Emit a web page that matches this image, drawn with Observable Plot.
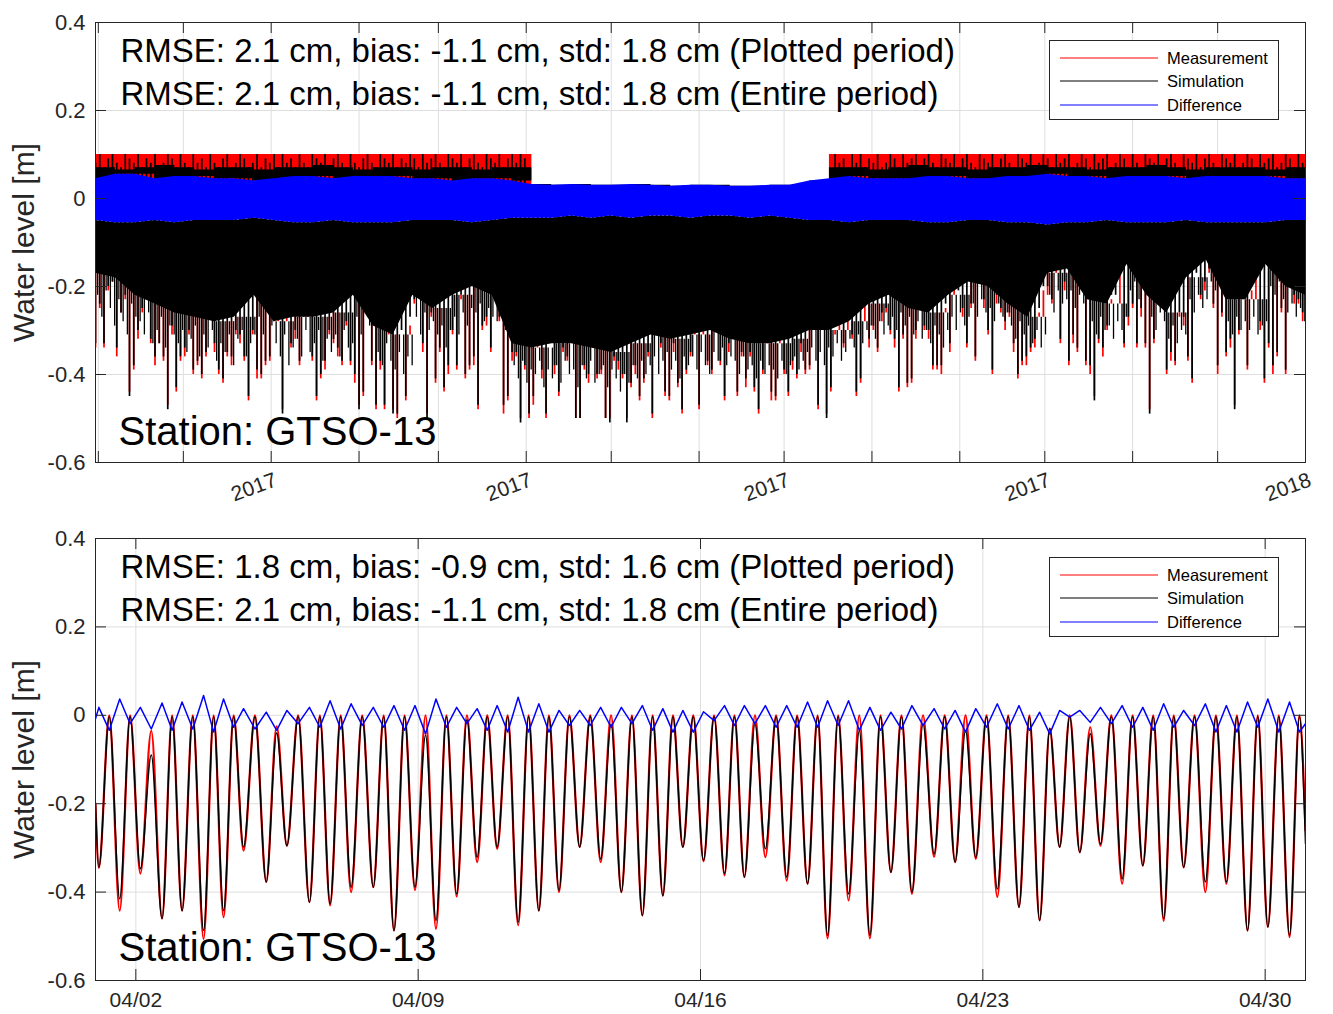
<!DOCTYPE html>
<html><head><meta charset="utf-8">
<script src="https://cdn.jsdelivr.net/npm/d3@7"></script>
<script src="https://cdn.jsdelivr.net/npm/@observablehq/plot@0.6"></script>
<style>
body{margin:0;background:#fff;}
#wrap{position:relative;width:1333px;height:1014px;overflow:hidden;background:#fff;}
#top{position:absolute;left:0;top:0;width:1333px;height:505px;overflow:hidden;}
#bot{position:absolute;left:0;top:505px;width:1333px;height:509px;overflow:hidden;}
.legend{position:absolute;background:#fff;border:1px solid #262626;box-sizing:border-box;}
</style></head><body>
<div id="wrap"><div id="top"></div><div id="bot"></div></div>
<script>
// ---------- labels ----------
const topStats = ["RMSE: 2.1 cm, bias: -1.1 cm, std: 1.8 cm (Plotted period)", "RMSE: 2.1 cm, bias: -1.1 cm, std: 1.8 cm (Entire period)"];
const bottomStats = ["RMSE: 1.8 cm, bias: -0.9 cm, std: 1.6 cm (Plotted period)", "RMSE: 2.1 cm, bias: -1.1 cm, std: 1.8 cm (Entire period)"];
const stationLabel = "Station: GTSO-13";
const yLabel = "Water level [m]";
const yTicks = [-0.6, -0.4, -0.2, 0, 0.2, 0.4];
const legendLabels = ["Measurement", "Simulation", "Difference"];
const seriesColors = ["#ff0000", "#000000", "#0000ff"];

// ---------- top panel (whole record, sampled every 1.5 days) ----------
const topStart = Date.UTC(2016, 9, 31);
const topEnd = Date.UTC(2018, 0, 1);
const sampleStepDays = 1.5;
const secondaryOffsetDays = 0.75;
const simLow = [
-0.33,-0.24,-0.33,-0.20,-0.19,-0.34,-0.26,-0.22,-0.45,-0.38,
-0.30,-0.25,-0.22,-0.32,-0.36,-0.33,-0.36,-0.48,-0.29,-0.43,
-0.36,-0.34,-0.30,-0.39,-0.37,-0.40,-0.35,-0.26,-0.33,-0.39,
-0.41,-0.35,-0.36,-0.30,-0.31,-0.36,-0.45,-0.30,-0.39,-0.40,
-0.37,-0.36,-0.21,-0.19,-0.49,-0.22,-0.33,-0.30,-0.37,-0.20,
-0.24,-0.36,-0.45,-0.40,-0.37,-0.30,-0.32,-0.34,-0.37,-0.28,
-0.37,-0.40,-0.48,-0.44,-0.16,-0.37,-0.47,-0.37,-0.47,-0.30,
-0.49,-0.49,-0.30,-0.45,-0.27,-0.23,-0.15,-0.33,-0.50,-0.26,
-0.41,-0.34,-0.43,-0.38,-0.30,-0.38,-0.22,-0.40,-0.38,-0.36,
-0.47,-0.29,-0.27,-0.34,-0.17,-0.27,-0.47,-0.45,-0.35,-0.35,
-0.51,-0.38,-0.49,-0.45,-0.30,-0.39,-0.49,-0.33,-0.38,-0.44,
-0.34,-0.36,-0.31,-0.50,-0.50,-0.38,-0.40,-0.30,-0.40,-0.39,
-0.50,-0.51,-0.36,-0.37,-0.40,-0.51,-0.42,-0.38,-0.45,-0.41,
-0.35,-0.49,-0.27,-0.33,-0.44,-0.45,-0.33,-0.42,-0.48,-0.39,
-0.35,-0.25,-0.47,-0.28,-0.37,-0.39,-0.26,-0.37,-0.45,-0.33,
-0.28,-0.44,-0.35,-0.41,-0.35,-0.43,-0.48,-0.39,-0.29,-0.44,
-0.45,-0.26,-0.39,-0.44,-0.37,-0.40,-0.33,-0.39,-0.38,-0.18,
-0.47,-0.26,-0.50,-0.43,-0.29,-0.23,-0.33,-0.23,-0.31,-0.44,
-0.41,-0.18,-0.32,-0.29,-0.34,-0.26,-0.25,-0.30,-0.32,-0.43,
-0.31,-0.42,-0.41,-0.30,-0.23,-0.29,-0.30,-0.38,-0.38,-0.38,
-0.24,-0.33,-0.16,-0.21,-0.25,-0.33,-0.24,-0.36,-0.15,-0.23,
-0.30,-0.39,-0.22,-0.25,-0.28,-0.26,-0.33,-0.40,-0.37,-0.36,
-0.34,-0.32,-0.25,-0.20,-0.20,-0.23,-0.14,-0.32,-0.19,-0.37,
-0.31,-0.34,-0.20,-0.37,-0.38,-0.46,-0.32,-0.34,-0.29,-0.22,
-0.22,-0.14,-0.33,-0.27,-0.24,-0.33,-0.25,-0.33,-0.49,-0.32,
-0.16,-0.19,-0.39,-0.35,-0.37,-0.26,-0.27,-0.36,-0.41,-0.17,
-0.22,-0.19,-0.16,-0.24,-0.38,-0.26,-0.35,-0.32,-0.48,-0.30,
-0.20,-0.38,-0.19,-0.16,-0.28,-0.41,-0.33,-0.38,-0.35,-0.25,
-0.39,-0.13,-0.22,-0.23,-0.26];
const measLow = [
-0.34,-0.25,-0.34,-0.21,-0.19,-0.36,-0.26,-0.23,-0.44,-0.39,
-0.32,-0.26,-0.23,-0.33,-0.38,-0.33,-0.37,-0.47,-0.31,-0.44,
-0.37,-0.36,-0.31,-0.40,-0.38,-0.41,-0.36,-0.27,-0.35,-0.40,
-0.42,-0.36,-0.38,-0.31,-0.33,-0.37,-0.46,-0.31,-0.41,-0.41,
-0.38,-0.37,-0.22,-0.20,-0.48,-0.24,-0.34,-0.32,-0.38,-0.21,
-0.26,-0.37,-0.46,-0.41,-0.39,-0.31,-0.33,-0.36,-0.38,-0.29,
-0.38,-0.42,-0.47,-0.45,-0.17,-0.38,-0.48,-0.39,-0.48,-0.31,
-0.48,-0.50,-0.31,-0.46,-0.29,-0.24,-0.16,-0.35,-0.49,-0.27,
-0.42,-0.35,-0.44,-0.40,-0.31,-0.39,-0.23,-0.41,-0.39,-0.38,
-0.48,-0.30,-0.29,-0.35,-0.18,-0.28,-0.49,-0.46,-0.37,-0.36,
-0.50,-0.39,-0.50,-0.47,-0.31,-0.41,-0.50,-0.34,-0.40,-0.45,
-0.35,-0.37,-0.33,-0.50,-0.50,-0.39,-0.42,-0.31,-0.41,-0.40,
-0.50,-0.50,-0.37,-0.39,-0.41,-0.50,-0.43,-0.40,-0.46,-0.42,
-0.36,-0.50,-0.29,-0.34,-0.45,-0.46,-0.35,-0.43,-0.49,-0.40,
-0.36,-0.27,-0.48,-0.29,-0.38,-0.40,-0.28,-0.38,-0.46,-0.35,
-0.29,-0.45,-0.36,-0.43,-0.36,-0.44,-0.49,-0.40,-0.30,-0.46,
-0.46,-0.28,-0.40,-0.45,-0.39,-0.41,-0.35,-0.40,-0.39,-0.19,
-0.48,-0.27,-0.49,-0.44,-0.31,-0.24,-0.34,-0.25,-0.32,-0.45,
-0.42,-0.19,-0.34,-0.30,-0.35,-0.28,-0.26,-0.31,-0.34,-0.44,
-0.32,-0.43,-0.42,-0.32,-0.24,-0.30,-0.32,-0.39,-0.39,-0.40,
-0.25,-0.35,-0.17,-0.22,-0.27,-0.34,-0.25,-0.37,-0.16,-0.25,
-0.31,-0.40,-0.24,-0.26,-0.30,-0.27,-0.35,-0.41,-0.38,-0.38,
-0.35,-0.34,-0.26,-0.21,-0.22,-0.24,-0.15,-0.33,-0.21,-0.38,
-0.33,-0.35,-0.21,-0.38,-0.40,-0.45,-0.33,-0.36,-0.30,-0.23,
-0.24,-0.15,-0.34,-0.29,-0.25,-0.34,-0.27,-0.34,-0.48,-0.33,
-0.17,-0.21,-0.40,-0.37,-0.38,-0.27,-0.29,-0.37,-0.42,-0.18,
-0.23,-0.21,-0.17,-0.25,-0.40,-0.27,-0.36,-0.34,-0.47,-0.31,
-0.21,-0.39,-0.21,-0.17,-0.30,-0.42,-0.34,-0.40,-0.36,-0.26,
-0.40,-0.14,-0.24,-0.24,-0.28];
// the in-between (second daily) low waters, shallower than the main spikes
const simLow2 = [
-0.22,-0.27,-0.21,-0.25,-0.29,-0.23,-0.28,-0.31,-0.24,-0.27,
-0.28,-0.31,-0.26,-0.33,-0.30,-0.27,-0.34,-0.29,-0.31,-0.33,
-0.30,-0.35,-0.32,-0.29,-0.36,-0.31,-0.34,-0.30,-0.37,-0.33,
-0.35,-0.31,-0.38,-0.32,-0.30,-0.36,-0.33,-0.31,-0.27,-0.31,
-0.25,-0.29,-0.33,-0.36,-0.31,-0.38,-0.34,-0.32,-0.36,-0.30,
-0.35,-0.33,-0.30,-0.37,-0.32,-0.35,-0.31,-0.36,-0.30,-0.34,
-0.33,-0.27,-0.31,-0.25,-0.29,-0.28,-0.35,-0.38,-0.33,-0.37,
-0.39,-0.35,-0.40,-0.36,-0.38,-0.27,-0.31,-0.26,-0.30,-0.28,
-0.31,-0.29,-0.34,-0.30,-0.27,-0.31,-0.26,-0.29,-0.25,-0.26,
-0.24,-0.28,-0.25,-0.27,-0.28,-0.25,-0.30,-0.27,-0.38,-0.41,
-0.37,-0.42,-0.39,-0.40,-0.37,-0.43,-0.39,-0.41,-0.38,-0.42,
-0.37,-0.40,-0.39,-0.43,-0.38,-0.41,-0.37,-0.42,-0.40,-0.38,
-0.43,-0.39,-0.41,-0.44,-0.40,-0.42,-0.38,-0.41,-0.37,-0.40,
-0.38,-0.36,-0.40,-0.37,-0.35,-0.39,-0.37,-0.41,-0.36,-0.38,
-0.36,-0.39,-0.35,-0.38,-0.40,-0.35,-0.37,-0.34,-0.38,-0.36,
-0.37,-0.40,-0.36,-0.39,-0.38,-0.41,-0.37,-0.40,-0.38,-0.39,
-0.41,-0.37,-0.40,-0.38,-0.36,-0.39,-0.37,-0.35,-0.34,-0.37,
-0.35,-0.38,-0.34,-0.36,-0.33,-0.37,-0.35,-0.32,-0.34,-0.31,
-0.33,-0.30,-0.29,-0.32,-0.28,-0.31,-0.29,-0.27,-0.30,-0.26,
-0.29,-0.27,-0.31,-0.28,-0.32,-0.30,-0.33,-0.29,-0.31,-0.34,
-0.30,-0.27,-0.30,-0.26,-0.29,-0.27,-0.24,-0.27,-0.23,-0.26,
-0.25,-0.28,-0.24,-0.27,-0.26,-0.29,-0.32,-0.28,-0.31,-0.29,
-0.33,-0.30,-0.34,-0.31,-0.22,-0.26,-0.21,-0.24,-0.23,-0.21,
-0.25,-0.22,-0.24,-0.20,-0.28,-0.31,-0.27,-0.30,-0.29,-0.32,
-0.28,-0.30,-0.27,-0.21,-0.19,-0.23,-0.20,-0.22,-0.27,-0.30,
-0.26,-0.28,-0.32,-0.29,-0.33,-0.30,-0.31,-0.23,-0.26,-0.22,
-0.25,-0.23,-0.19,-0.21,-0.18,-0.20,-0.28,-0.31,-0.27,-0.30,
-0.28,-0.30,-0.27,-0.31,-0.29,-0.28,-0.20,-0.22,-0.19,-0.23,
-0.26,-0.24,-0.27,-0.25,-0.28];
// highest simulated level in each sample window
const simHigh = [
0.08,0.1,0.07,0.09,0.1,0.08,0.07,0.1,0.09,0.08,
0.1,0.07,0.09,0.08,0.1,0.07,0.08,0.1,0.09,0.07,
0.1,0.08,0.07,0.1,0.08,0.09,0.07,0.1,0.08,0.07,
0.09,0.1,0.07,0.08,0.1,0.09,0.07,0.08,0.1,0.07,
0.09,0.08,0.1,0.07,0.1,0.08,0.09,0.07,0.1,0.08,
0.07,0.1,0.09,0.08,0.1,0.07,0.09,0.1,0.08,0.07,
0.1,0.08,0.07,0.09,0.1,0.08,0.07,0.1,0.09,0.08,
0.1,0.07,0.09,0.08,0.1,0.09,0.07,0.1,0.08,0.09,
0.1,0.08,0.07,0.1,0.09,0.08,0.1,0.07,0.09,0.1,
0.08,0.07,0.1,0.09,0.08,0.1,0.07,0.09,0.1,0.08,
0.1,0.09,0,0,0,0,0,0,0,0,
0,0,0,0,0,0,0,0,0,0,0,0,0,0,0,0,0,0,0,0,
0,0,0,0,0,0,0,0,0,0,0,0,0,0,0,0,0,0,0,0,
0,0,0,0,0,0,0,0,0,0,0,0,0,0,0,0,0,0,0,0,
0,0,0,0,
0.1,0.08,0.09,0.07,0.1,0.08,0.1,0.07,0.09,0.08,
0.1,0.07,0.08,0.1,0.09,0.07,0.1,0.08,0.09,0.1,
0.07,0.09,0.1,0.08,0.07,0.1,0.09,0.08,0.1,0.07,
0.09,0.1,0.08,0.07,0.1,0.09,0.08,0.1,0.07,0.09,
0.1,0.08,0.07,0.1,0.09,0.08,0.1,0.07,0.08,0.1,
0.09,0.07,0.1,0.08,0.09,0.1,0.07,0.08,0.1,0.09,
0.07,0.1,0.08,0.09,0.1,0.07,0.08,0.1,0.09,0.07,
0.1,0.08,0.07,0.1,0.09,0.08,0.1,0.07,0.09,0.1,
0.08,0.07,0.1,0.09,0.08,0.1,0.07,0.09,0.1,0.08,
0.07,0.1,0.09,0.08,0.1,0.07,0.08,0.1,0.09,0.07,
0.1,0.08,0.09,0.1,0.07,0.08,0.1,0.09,0.07,0.1,0.08];
// weekly envelopes
const floorWeekly = [
-0.17,-0.18,-0.22,-0.24,-0.26,-0.27,-0.28,-0.27,-0.22,-0.28,
-0.27,-0.27,-0.26,-0.22,-0.29,-0.31,-0.22,-0.25,-0.22,-0.20,
-0.22,-0.33,-0.34,-0.33,-0.33,-0.34,-0.35,-0.33,-0.31,-0.32,
-0.31,-0.30,-0.32,-0.33,-0.33,-0.32,-0.30,-0.30,-0.28,-0.24,
-0.22,-0.25,-0.26,-0.22,-0.19,-0.20,-0.24,-0.27,-0.17,-0.16,
-0.23,-0.24,-0.15,-0.22,-0.26,-0.18,-0.14,-0.23,-0.23,-0.15,
-0.20,-0.22];
const measTopWeekly = [
0.1,0.1,0.1,0.1,0.1,0.1,0.1,0.1,0.1,0.1,0.1,0.1,0.1,0.1,0.1,0.1,0.1,0.1,0.1,0.1,0.1,0.1,
0,0,0,0,0,0,0,0,0,0,0,0,0,0,0,
0.1,0.1,0.1,0.1,0.1,0.1,0.1,0.1,0.1,0.1,0.1,0.1,0.1,0.1,0.1,0.1,0.1,0.1,0.1,0.1,0.1,0.1,0.1,0.1,0.1];
const simTopWeekly = [
0.07,0.065,0.07,0.075,0.07,0.065,0.07,0.07,0.065,0.07,0.07,0.075,0.07,0.065,0.07,0.07,0.065,0.07,0.07,0.065,0.07,0.07,
-0.01,-0.01,-0.01,-0.01,-0.01,-0.01,-0.01,-0.01,-0.01,-0.01,-0.01,-0.01,-0.01,-0.01,-0.01,
0.07,0.07,0.065,0.07,0.075,0.07,0.07,0.065,0.07,0.07,0.075,0.07,0.07,0.065,0.07,0.07,0.075,0.07,0.065,0.07,0.07,0.07,0.065,0.07,0.07];
const diffHighWeekly = [
0.045,0.055,0.055,0.045,0.05,0.05,0.045,0.045,0.04,0.045,0.05,0.05,0.045,0.05,0.05,0.05,0.045,0.045,0.04,0.045,0.045,0.04,
0.032,0.03,0.032,0.03,0.03,0.032,0.03,0.028,0.03,0.03,0.028,0.028,0.03,0.03,0.04,
0.045,0.05,0.045,0.045,0.045,0.05,0.05,0.045,0.045,0.05,0.05,0.055,0.05,0.05,0.045,0.05,0.05,0.05,0.045,0.05,0.05,0.05,0.05,0.045,0.045];
const diffLowWeekly = [
-0.05,-0.055,-0.055,-0.05,-0.055,-0.05,-0.05,-0.05,-0.045,-0.05,-0.055,-0.055,-0.05,-0.055,-0.055,-0.055,-0.05,-0.05,-0.05,-0.055,-0.05,-0.045,
-0.045,-0.045,-0.04,-0.045,-0.04,-0.045,-0.04,-0.04,-0.045,-0.04,-0.04,-0.045,-0.04,-0.045,-0.05,
-0.05,-0.055,-0.05,-0.05,-0.05,-0.055,-0.055,-0.05,-0.05,-0.055,-0.055,-0.06,-0.055,-0.055,-0.05,-0.055,-0.055,-0.055,-0.05,-0.055,-0.055,-0.055,-0.055,-0.05,-0.05];

// ---------- bottom panel (April 2017) ----------
const bottomStart = Date.UTC(2017, 3, 1);
const bottomEnd = Date.UTC(2017, 4, 1);
const edgeHours = [0, 720];
const simEdge = [-0.2, -0.29];
const measEdge = [-0.2, -0.26];
const diffEdge = [-0.008, -0.019];
const troughHour = [2.0,14.4,26.7,39.6,51.5,64.3,76.2,88.1,101.6,113.9,127.3,139.6,152.1,165.3,177.6,190.1,202.6,214.9,227.1,239.0,251.5,263.8,275.8,288.1,300.6,312.9,325.4,337.6,349.5,361.8,374.3,386.1,398.6,411.3,423.7,435.6,448.1,460.8,473.3,485.8,499.0,511.5,523.8,536.6,549.5,561.8,573.7,585.7,598.0,610.9,623.2,635.6,647.5,660.4,672.9,685.5,697.6,710.5];
const peakHour = [8.2,20.6,33.2,45.6,57.9,70.3,82.2,94.9,107.8,120.6,133.5,145.9,158.7,171.5,183.9,196.4,208.8,221.0,233.1,245.3,257.7,269.8,282.0,294.4,306.8,319.2,331.5,343.6,355.7,368.1,380.2,392.4,405.0,417.5,429.7,441.9,454.5,467.1,479.6,492.4,505.3,517.7,530.2,543.1,555.7,567.8,579.7,591.9,604.5,617.1,629.4,641.6,654.0,666.7,679.2,691.6,704.1,716.4];
const simTrough = [-0.344,-0.415,-0.347,-0.46,-0.442,-0.487,-0.442,-0.298,-0.377,-0.295,-0.423,-0.426,-0.389,-0.389,-0.487,-0.389,-0.464,-0.404,-0.321,-0.298,-0.468,-0.442,-0.396,-0.298,-0.325,-0.40,-0.453,-0.408,-0.298,-0.328,-0.358,-0.366,-0.302,-0.366,-0.381,-0.498,-0.404,-0.498,-0.355,-0.40,-0.314,-0.332,-0.321,-0.393,-0.434,-0.464,-0.298,-0.31,-0.291,-0.37,-0.34,-0.46,-0.344,-0.377,-0.377,-0.487,-0.479,-0.498];
const measTrough = [-0.345,-0.442,-0.358,-0.46,-0.442,-0.506,-0.457,-0.306,-0.377,-0.295,-0.423,-0.43,-0.40,-0.389,-0.487,-0.395,-0.483,-0.41,-0.332,-0.302,-0.475,-0.442,-0.40,-0.298,-0.332,-0.40,-0.453,-0.408,-0.298,-0.33,-0.362,-0.366,-0.321,-0.374,-0.381,-0.505,-0.419,-0.505,-0.355,-0.404,-0.32,-0.332,-0.325,-0.411,-0.434,-0.464,-0.298,-0.31,-0.295,-0.381,-0.34,-0.465,-0.344,-0.40,-0.381,-0.487,-0.479,-0.502];
const simPeak = [-0.003,-0.003,-0.09,-0.003,-0.003,-0.003,-0.003,-0.003,-0.04,-0.003,-0.003,-0.003,-0.003,-0.003,-0.003,-0.045,-0.003,-0.01,-0.003,-0.003,-0.003,-0.003,-0.003,-0.003,-0.02,-0.003,-0.003,-0.003,-0.003,-0.003,-0.003,-0.02,-0.003,-0.003,-0.003,-0.003,-0.035,-0.003,-0.003,-0.02,-0.003,-0.035,-0.003,-0.003,-0.003,-0.03,-0.003,-0.042,-0.003,-0.003,-0.003,-0.003,-0.003,-0.003,-0.003,-0.003,-0.003,-0.003];
const measPeak = [0,0,-0.035,0,0,0,0,0,-0.025,0,0,0,0,0,0,0,0,0,0,0,0,0,0,0,0,0,0,0,0,0,0,0,0,0,0,0,0,0,0,0,0,0,0,0,0,-0.03,0,-0.027,0,0,0,0,0,0,0,0,0,0];
const diffAtTrough = [0.018,0.037,0.018,0.028,0.030,0.045,0.037,0.015,0.007,0.011,0.018,0.033,0.026,0.018,0.022,0.022,0.037,0.018,0.015,0.022,0.041,0.026,0.011,0.011,0.018,0.018,0.022,0.015,0.011,0.008,0.022,0.022,0.022,0.022,0.030,0.033,0.033,0.018,0.007,0.022,0.015,0.011,0.015,0.026,0.022,0.007,0.011,0.011,0.018,0.022,0.018,0.026,0.011,0.026,0.022,0.030,0.037,0.030];
const diffAtPeak = [-0.034,-0.019,-0.031,-0.034,-0.031,-0.038,-0.027,-0.031,-0.034,-0.019,-0.027,-0.031,-0.023,-0.027,-0.034,-0.042,-0.027,-0.019,-0.034,-0.038,-0.038,-0.038,-0.023,-0.023,-0.027,-0.019,-0.034,-0.038,-0.038,-0.012,-0.023,-0.019,-0.027,-0.027,-0.027,-0.023,-0.034,-0.034,-0.031,-0.023,-0.031,-0.038,-0.027,-0.031,-0.034,-0.042,-0.004,-0.016,-0.019,-0.027,-0.034,-0.027,-0.023,-0.038,-0.038,-0.027,-0.038,-0.038];

// ---------- styling ----------
const FONT = '"Liberation Sans", Arial, Helvetica, sans-serif';
const AXIS = "#262626";
const GRID = "#dedede";
const [RED, BLACK, BLUE] = seriesColors;
const W = 1333, ML = 95, MR = 28;
const PW = W - ML - MR;
const TICK = 11;
const DAY = 864e5, HOUR = 36e5;
const fmtY = d => d === 0 ? "0" : String(d);

// ---------- derived tables ----------
const weekIndex = i => Math.floor(i * sampleStepDays / 7);
const samples = simLow.map((v, i) => ({
  t: new Date(topStart + i * sampleStepDays * DAY),
  t2: new Date(topStart + (i * sampleStepDays + secondaryOffsetDays) * DAY),
  sim: v, sim2: simLow2[i], meas: measLow[i], high: simHigh[i], floor: floorWeekly[weekIndex(i)]
}));
const weeks = floorWeekly.map((f, w) => ({
  t: new Date(topStart + w * 7 * DAY), floor: f, measTop: measTopWeekly[w], simTop: simTopWeekly[w],
  dHi: diffHighWeekly[w], dLo: diffLowWeekly[w]
}));
const topTicks = d3.utcMonth.range(new Date(Date.UTC(2016, 10, 1)), new Date(Date.UTC(2018, 0, 2)));
const topLabelDates = [0, 3, 6, 9, 12].map(m => new Date(Date.UTC(2017, m, 1)));

function buildSeries(edge, troughs, peaks) {
  const pts = [{h: edgeHours[0], v: edge[0]}];
  troughHour.forEach((h, k) => { pts.push({h, v: troughs[k]}); pts.push({h: peakHour[k], v: peaks[k]}); });
  pts.push({h: edgeHours[1], v: edge[1]});
  return pts.map(p => ({t: new Date(bottomStart + p.h * HOUR), v: p.v}));
}
const measSeries = buildSeries(measEdge, measTrough, measPeak);
const simSeries = buildSeries(simEdge, simTrough, simPeak);
const diffSeries = buildSeries(diffEdge, diffAtTrough, diffAtPeak);
const bottomTicks = [2, 9, 16, 23, 30].map(d => new Date(Date.UTC(2017, 3, d)));

function frameMarks(xTicks, plotH, stats) {
  return [
    Plot.tickX(xTicks, {x: d => d, insetTop: plotH - TICK, stroke: AXIS}),
    Plot.tickX(xTicks, {x: d => d, insetBottom: plotH - TICK, stroke: AXIS}),
    Plot.tickY(yTicks, {y: d => d, insetRight: PW - TICK, stroke: AXIS}),
    Plot.tickY(yTicks, {y: d => d, insetLeft: PW - TICK, stroke: AXIS}),
    Plot.frame({stroke: AXIS, strokeWidth: 1}),
    Plot.axisY({ticks: yTicks, tickSize: 0, tickPadding: 10, tickFormat: fmtY, fontSize: 22, fill: AXIS, label: null}),
    Plot.text([yLabel], {frameAnchor: "left", dx: -71, rotate: -90, textAnchor: "middle", lineAnchor: "middle", fontSize: 30, fill: AXIS}),
    Plot.text([stats.join("\n")], {frameAnchor: "top-left", dx: 25, dy: 9, lineAnchor: "top", textAnchor: "start", fontSize: 33, lineHeight: 1.3, fill: "#000"}),
    Plot.text([stationLabel], {frameAnchor: "top-left", dx: 23, dy: 394, lineAnchor: "top", textAnchor: "start", fontSize: 40, fill: "#000"})
  ];
}

// ---------- top plot ----------
const topH = 440;
const topPlot = Plot.plot({
  width: W, height: 505, marginLeft: ML, marginRight: MR, marginTop: 22, marginBottom: 43,
  style: {fontFamily: FONT, background: "white"},
  x: {type: "utc", domain: [new Date(topStart), new Date(topEnd)], axis: null},
  y: {domain: [-0.6, 0.4], axis: null},
  marks: [
    Plot.ruleX(topTicks, {x: d => d, stroke: GRID}),
    Plot.ruleY(yTicks, {y: d => d, stroke: GRID}),
    Plot.areaY(weeks, {x: "t", y: "measTop", curve: "step-after", fill: RED, clip: true}),
    Plot.ruleX(samples, {x: "t", y1: "meas", y2: "floor", stroke: RED, strokeWidth: 1.7, clip: true}),
    Plot.areaY(weeks, {x: "t", y1: "floor", y2: "dLo", fill: BLACK, clip: true}),
    Plot.areaY(weeks, {x: "t", y1: "dHi", y2: "simTop", curve: "step-after", fill: BLACK, clip: true}),
    Plot.ruleX(samples, {x: "t2", y1: "sim2", y2: "floor", stroke: BLACK, strokeWidth: 1.3, clip: true}),
    Plot.ruleX(samples, {x: "t", y1: "sim", y2: "high", stroke: BLACK, strokeWidth: 1.7, clip: true}),
    Plot.areaY(weeks, {x: "t", y1: "dLo", y2: "dHi", fill: BLUE, clip: true}),
    ...frameMarks(topTicks, topH, topStats),
    Plot.text(topLabelDates, {x: d => d, text: d => d3.utcFormat("%Y")(d), frameAnchor: "bottom", rotate: -20,
      textAnchor: "end", lineAnchor: "bottom", dx: 7, dy: 23, fontSize: 21, fill: AXIS})
  ]
});
document.getElementById("top").appendChild(topPlot);

// ---------- bottom plot ----------
const botH = 442;
const botPlot = Plot.plot({
  width: W, height: 509, marginLeft: ML, marginRight: MR, marginTop: 33, marginBottom: 34,
  style: {fontFamily: FONT, background: "white"},
  x: {type: "utc", domain: [new Date(bottomStart), new Date(bottomEnd)], axis: null},
  y: {domain: [-0.6, 0.4], axis: null},
  marks: [
    Plot.ruleX(bottomTicks, {x: d => d, stroke: GRID}),
    Plot.ruleY(yTicks, {y: d => d, stroke: GRID}),
    Plot.line(measSeries, {x: "t", y: "v", stroke: RED, strokeWidth: 2.2, curve: "monotone-x", clip: true}),
    Plot.line(simSeries, {x: "t", y: "v", stroke: BLACK, strokeWidth: 1.5, curve: "monotone-x", clip: true}),
    Plot.line(diffSeries, {x: "t", y: "v", stroke: BLUE, strokeWidth: 1.5, clip: true}),
    ...frameMarks(bottomTicks, botH, bottomStats),
    Plot.axisX({ticks: bottomTicks, tickSize: 0, tickPadding: 12, tickFormat: d3.utcFormat("%m/%d"), fontSize: 21, fill: AXIS, label: null})
  ]
});
document.getElementById("bot").appendChild(botPlot);

// ---------- legends ----------
function addLegend(left, top) {
  const box = d3.select("#wrap").append("div").attr("class", "legend")
    .style("left", left + "px").style("top", top + "px").style("width", "230px").style("height", "80px");
  const svg = box.append("svg").attr("width", 228).attr("height", 78).style("display", "block");
  const rows = [17, 40, 64];
  legendLabels.forEach((lab, i) => {
    svg.append("line").attr("x1", 10).attr("x2", 108).attr("y1", rows[i]).attr("y2", rows[i])
      .attr("stroke", seriesColors[i]).attr("stroke-width", 1.2);
    svg.append("text").attr("x", 117).attr("y", rows[i]).attr("dy", "0.35em")
      .attr("font-family", FONT).attr("font-size", 16.5).attr("fill", "#000").text(lab);
  });
}
addLegend(1049, 40);
addLegend(1049, 557);
</script></body></html>
